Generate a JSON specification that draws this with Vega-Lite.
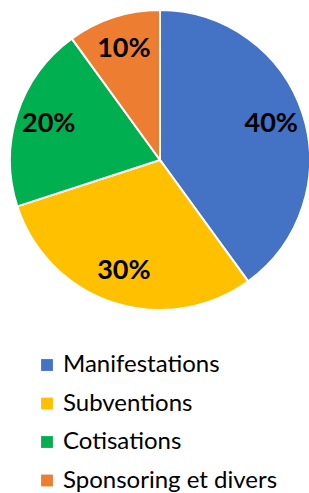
{
  "$schema": "https://vega.github.io/schema/vega-lite/v6.json",
  "width": 320,
  "height": 320,
  "autosize": "none",
  "padding": {"left": 0, "top": 0, "right": 0, "bottom": 173},
  "background": "white",
  "data": {
    "values": [
      {"categorie": "Manifestations", "part": 40, "ordre": 1, "label": "40%"},
      {"categorie": "Subventions", "part": 30, "ordre": 2, "label": "30%"},
      {"categorie": "Cotisations", "part": 20, "ordre": 3, "label": "20%"},
      {"categorie": "Sponsoring et divers", "part": 10, "ordre": 4, "label": "10%"}
    ]
  },
  "encoding": {
    "theta": {"field": "part", "type": "quantitative", "stack": true},
    "order": {"field": "ordre", "type": "quantitative"}
  },
  "layer": [
    {
      "mark": {"type": "arc", "outerRadius": 150, "stroke": "white", "strokeWidth": 2},
      "encoding": {
        "color": {
          "field": "categorie",
          "type": "nominal",
          "scale": {
            "domain": ["Manifestations", "Subventions", "Cotisations", "Sponsoring et divers"],
            "range": ["#4472C4", "#FFC000", "#00B050", "#ED7D31"]
          },
          "legend": {
            "title": null,
            "orient": "none",
            "legendX": 35,
            "legendY": 353,
            "symbolType": "square",
            "symbolSize": 140,
            "symbolStrokeWidth": 0,
            "labelFont": "Lato",
            "labelFontSize": 24,
            "labelColor": "#000000",
            "labelOffset": 4,
            "rowPadding": 14.5,
            "labelLimit": 300
          }
        }
      }
    },
    {
      "mark": {
        "type": "text",
        "radius": 117,
        "font": "Lato",
        "fontWeight": "bold",
        "fontSize": 27,
        "color": "black",
        "align": "center",
        "baseline": "middle"
      },
      "encoding": {
        "text": {"field": "label", "type": "nominal"}
      }
    }
  ]
}
